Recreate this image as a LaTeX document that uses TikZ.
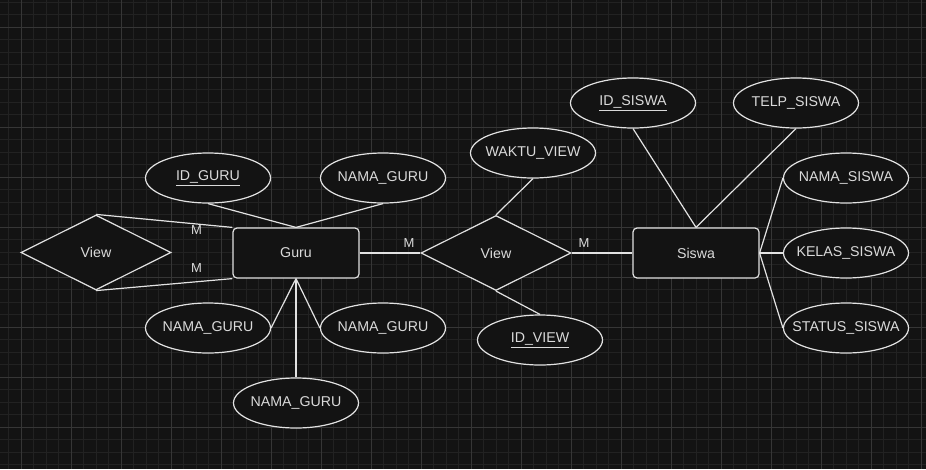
\documentclass[tikz,border=0pt]{standalone}
\usepackage{fontspec}
\setmainfont{Liberation Sans}
\usetikzlibrary{shapes.geometric}
\definecolor{bg}{HTML}{131313}
\definecolor{minorgrid}{HTML}{222222}
\definecolor{majorgrid}{HTML}{363636}
\definecolor{ink}{HTML}{E2E2E2}
\definecolor{txt}{HTML}{DADADA}
\newcommand{\zt}[1]{\makebox[0pt]{\raisebox{-1pt}{#1}}}
\begin{document}
\begin{tikzpicture}[x=1pt,y=-1pt,
  lbl/.style={text=txt, font=\fontsize{14.2}{17}\selectfont},
  ent/.style={lbl, draw=ink, fill=bg, rounded corners=4pt, minimum width=126pt, minimum height=50pt, line width=1.2pt, inner sep=0pt},
  attr/.style={lbl, ellipse, draw=ink, fill=bg, minimum width=125pt, minimum height=50pt, line width=1.2pt, inner sep=0pt},
  rel/.style={lbl, diamond, draw=ink, fill=bg, minimum width=150pt, minimum height=75pt, aspect=2, line width=1.2pt, inner sep=0pt},
  conn/.style={draw=ink, line width=1.2pt},
  card/.style={text=txt, font=\fontsize{13}{15}\selectfont, inner sep=0pt}
]
% background and grid
\fill[bg] (0,0) rectangle (926,469);
\useasboundingbox (0,0) rectangle (926,469);
\foreach \x in {8.5,21,...,926} \draw[minorgrid, line width=1pt] (\x,0) -- (\x,469);
\foreach \y in {2,14.5,...,469} \draw[minorgrid, line width=1pt] (0,\y) -- (926,\y);
\foreach \x in {21,71,...,926} \draw[majorgrid, line width=1pt] (\x,0) -- (\x,469);
\foreach \y in {27,77,...,469} \draw[majorgrid, line width=1pt] (0,\y) -- (926,\y);

% nodes
\node[rel] (lv) at (96,252.5) {\zt{View}};
\node[ent] (guru) at (296,253) {\zt{Guru}};
\node[rel] (mv) at (496,253) {\zt{View}};
\node[ent] (siswa) at (696,253) {\zt{Siswa}};

\node[attr] (idguru) at (208,178) {\zt{\underline{ID\_GURU}}};
\node[attr] (ng1) at (383,178) {\zt{NAMA\_GURU}};
\node[attr] (ng2) at (208,328) {\zt{NAMA\_GURU}};
\node[attr] (ng3) at (383,328) {\zt{NAMA\_GURU}};
\node[attr] (ng4) at (296,403) {\zt{NAMA\_GURU}};

\node[attr] (waktu) at (533,153) {\zt{WAKTU\_VIEW}};
\node[attr] (idview) at (540,340) {\zt{\underline{ID\_VIEW}}};

\node[attr] (idsiswa) at (633,103) {\zt{\underline{ID\_SISWA}}};
\node[attr] (telp) at (796,103) {\zt{TELP\_SISWA}};
\node[attr] (nsiswa) at (846,178) {\zt{NAMA\_SISWA}};
\node[attr] (ksiswa) at (846,253) {\zt{KELAS\_SISWA}};
\node[attr] (ssiswa) at (846,328) {\zt{STATUS\_SISWA}};

% connectors
\draw[conn] (lv.north) -- (guru.north west);
\draw[conn] (lv.south) -- (guru.south west);
\draw[conn] (idguru.south) -- (guru.north);
\draw[conn] (ng1.south) -- (guru.north);
\draw[conn] (ng2.east) -- (guru.south);
\draw[conn] (ng3.west) -- (guru.south);
\draw[conn] (ng4.north) -- (guru.south);
\draw[conn] (guru.east) -- (mv.west);
\draw[conn] (mv.east) -- (siswa.west);
\draw[conn] (waktu.south) -- (mv.north);
\draw[conn] (mv.south) -- (idview.north);
\draw[conn] (idsiswa.south) -- (siswa.north);
\draw[conn] (telp.south) -- (siswa.north);
\draw[conn] (nsiswa.west) -- (siswa.east);
\draw[conn] (ksiswa.west) -- (siswa.east);
\draw[conn] (ssiswa.west) -- (siswa.east);

% cardinalities
\node[card] (m1) at (196.5,230.5) {M};
\node[card] (m2) at (196.5,268) {M};
\node[card] (m3) at (409,243) {M};
\node[card] (m4) at (584,243) {M};
\end{tikzpicture}
\end{document}
